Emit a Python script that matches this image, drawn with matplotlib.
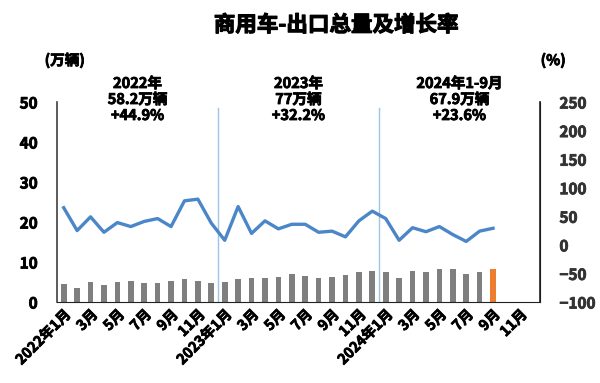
import matplotlib
matplotlib.use('Agg')
import matplotlib.pyplot as plt
import matplotlib.patheffects as pe
import numpy as np

plt.rcParams['font.family'] = ['Noto Sans CJK SC', 'DejaVu Sans']

# monthly export volume (10k units) and yoy growth (%)
volume = [4.6, 3.5, 4.9, 4.2, 4.9, 5.2, 4.75, 4.75, 5.2, 5.75, 5.25, 4.75,
          4.9, 5.75, 5.9, 5.9, 6.25, 6.9, 6.5, 5.9, 6.25, 6.7, 7.6, 7.75,
          7.4, 6.1, 7.75, 7.4, 8.3, 8.2, 6.9, 7.4, 8.2]
growth = [65, 25, 49, 22, 39, 32, 41, 46, 32, 77, 80, 38,
          8, 67, 20, 42, 28, 36, 36, 22, 24, 14, 42, 59,
          46, 8, 30, 23, 32, 18, 6, 24, 29]
tick_labels = ['2022年1月', '3月', '5月', '7月', '9月', '11月',
               '2023年1月', '3月', '5月', '7月', '9月', '11月',
               '2024年1月', '3月', '5月', '7月', '9月', '11月']
notes = ['2022年\n58.2万辆\n+44.9%', '2023年\n77万辆\n+32.2%', '2024年1-9月\n67.9万辆\n+23.6%']

n_slots = 36
x = np.arange(len(volume))

# fake a heavier bold like the original
def heavy(c='black', w=0.6):
    return [pe.withStroke(linewidth=w, foreground=c)]

fig = plt.figure(figsize=(6, 3.83), dpi=100)
ax = fig.add_axes([0.095, 0.2115, 0.805, 0.5222])
ax2 = ax.twinx()

colors = ['#7f7f7f'] * len(volume)
colors[-1] = '#ed7d31'
ax.bar(x, volume, width=0.42, color=colors, zorder=2)
ax2.plot(x, growth, color='#4a86c8', lw=2.4, zorder=3)

ax.set_xlim(-0.5, n_slots - 0.5)
ax.set_ylim(0, 50)
ax2.set_ylim(-100, 250)
ax.set_yticks(range(0, 51, 10))
ax2.set_yticks(range(-100, 251, 50))

for b in [11.5, 23.5]:
    ax.axvline(b, ymin=0, ymax=0.97, color='#9dc3e6', lw=1, zorder=1)

ax.set_xticks(np.arange(0, n_slots, 2))
ax.set_xticklabels(tick_labels, rotation=45, ha='right', rotation_mode='anchor',
                   fontsize=10.3, fontweight='bold')
ax.tick_params(axis='x', length=0, pad=4)
ax.tick_params(axis='y', length=0, labelsize=11, pad=14)
ax2.tick_params(axis='y', length=0, labelsize=11, pad=14)
for lbl in ax.get_xticklabels() + ax.get_yticklabels():
    lbl.set_fontweight('bold')
    lbl.set_path_effects(heavy())
for lbl in ax2.get_yticklabels():
    lbl.set_fontweight('bold')
    lbl.set_color('#333333')
    lbl.set_path_effects(heavy('#333333'))

for a in (ax, ax2):
    a.spines['top'].set_visible(False)
ax.spines['left'].set_color('#404040')
ax2.spines['left'].set_visible(False)
ax2.spines['right'].set_color('#222222')
ax2.spines['right'].set_linewidth(1.2)
ax.spines['left'].set_linewidth(1.2)
ax.spines['bottom'].set_color('#222222')
ax2.spines['bottom'].set_visible(False)

fig.text(0.56, 0.935, '商用车-出口总量及增长率', ha='center', va='center',
         fontsize=15.5, fontweight='bold', path_effects=heavy(w=0.8))
fig.text(0.108, 0.843, '(万辆)', ha='center', va='center', fontsize=10.5,
         fontweight='bold', path_effects=heavy())
fig.text(0.922, 0.843, '(%)', ha='center', va='center', fontsize=10.5,
         fontweight='bold', path_effects=heavy())

for xc, txt in zip([5.5, 17.5, 29.5], notes):
    ax.text(xc, 50.75, txt, ha='center', va='center', fontsize=10.5,
            fontweight='bold', linespacing=1.0, path_effects=heavy())

fig.savefig('out.png', dpi=100)
